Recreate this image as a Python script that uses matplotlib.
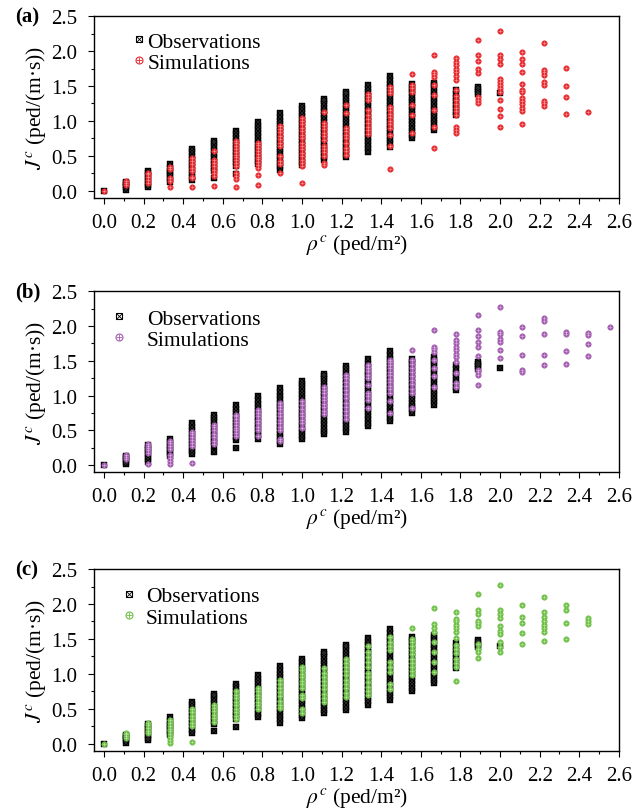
import matplotlib
matplotlib.use("Agg")
import matplotlib.pyplot as plt
from matplotlib.lines import Line2D

plt.rcParams['font.family'] = ['Liberation Serif', 'DejaVu Serif']
plt.rcParams['mathtext.fontset'] = 'stix'

# density columns (ped/m^2)
rho = [0.0, 0.111, 0.222, 0.333, 0.444, 0.556, 0.667, 0.778, 0.889, 1.0, 1.111, 1.222,
       1.333, 1.444, 1.556, 1.667, 1.778, 1.889, 2.0, 2.111, 2.222, 2.333, 2.444, 2.556]

# observed flow per density column
obs_flow = [
    [0.0],
    [0.02, 0.05, 0.08, 0.11, 0.13],
    [0.05, 0.09, 0.13, 0.17, 0.21, 0.25, 0.29],
    [0.13, 0.17, 0.21, 0.25, 0.29, 0.33, 0.38],
    [0.16, 0.20, 0.25, 0.30, 0.35, 0.40, 0.45, 0.50, 0.55, 0.60],
    [0.19, 0.28, 0.33, 0.38, 0.43, 0.48, 0.53, 0.58, 0.63, 0.68, 0.72],
    [0.24, 0.36, 0.41, 0.46, 0.51, 0.56, 0.61, 0.66, 0.71, 0.76, 0.81, 0.86],
    [0.38, 0.43, 0.48, 0.53, 0.58, 0.63, 0.68, 0.73, 0.78, 0.83, 0.88, 0.93, 0.99],
    [0.30, 0.35, 0.40, 0.45, 0.50, 0.55, 0.60, 0.65, 0.70, 0.75, 0.80, 0.85, 0.90, 0.95,
     1.00, 1.05, 1.11],
    [0.37, 0.42, 0.47, 0.52, 0.57, 0.62, 0.67, 0.72, 0.77, 0.82, 0.87, 0.92, 0.97, 1.02,
     1.07, 1.12, 1.17, 1.21],
    [0.44, 0.49, 0.54, 0.59, 0.64, 0.69, 0.74, 0.79, 0.84, 0.89, 0.94, 0.99, 1.04, 1.09,
     1.14, 1.19, 1.24, 1.28, 1.31],
    [0.48, 0.53, 0.58, 0.63, 0.68, 0.73, 0.78, 0.83, 0.88, 0.93, 0.98, 1.03, 1.08, 1.13,
     1.18, 1.23, 1.28, 1.33, 1.38, 1.42],
    [0.56, 0.61, 0.66, 0.71, 0.76, 0.81, 0.86, 0.91, 0.96, 1.01, 1.06, 1.11, 1.16, 1.21,
     1.26, 1.31, 1.36, 1.41, 1.46, 1.52],
    [0.63, 0.68, 0.73, 0.78, 0.83, 0.88, 0.93, 0.98, 1.03, 1.08, 1.13, 1.18, 1.23, 1.28,
     1.33, 1.38, 1.43, 1.48, 1.53, 1.58, 1.64],
    [0.75, 0.80, 0.85, 0.90, 0.95, 1.00, 1.05, 1.10, 1.15, 1.20, 1.25, 1.30, 1.35, 1.40,
     1.45, 1.49, 1.53],
    [0.87, 0.92, 0.97, 1.02, 1.07, 1.12, 1.17, 1.22, 1.27, 1.32, 1.37, 1.42, 1.47, 1.51,
     1.55],
    [1.08, 1.13, 1.18, 1.23, 1.28, 1.33, 1.38, 1.44],
    [1.38, 1.42, 1.46, 1.49],
    [1.40],
    [], [], [], [], [],
]

# simulated flow, panel (a)
sim_a = [
    [0.0],
    [0.08, 0.11, 0.14],
    [0.12, 0.16, 0.20, 0.24, 0.26],
    [0.05, 0.14, 0.18, 0.31, 0.34],
    [0.06, 0.18, 0.20, 0.28, 0.33, 0.38, 0.43, 0.47],
    [0.07, 0.21, 0.26, 0.30, 0.35, 0.40, 0.44, 0.57],
    [0.06, 0.17, 0.21, 0.26, 0.36, 0.40, 0.44, 0.48, 0.52, 0.56, 0.60, 0.64, 0.68, 0.71],
    [0.09, 0.23, 0.33, 0.37, 0.41, 0.45, 0.49, 0.53, 0.57, 0.62, 0.66, 0.69],
    [0.26, 0.38, 0.43, 0.50, 0.64, 0.69, 0.74, 0.79, 0.84, 0.89, 0.93],
    [0.12, 0.35, 0.40, 0.44, 0.50, 0.54, 0.60, 0.64, 0.68, 0.75, 0.80, 0.86, 0.90, 0.96,
     1.00, 1.04],
    [0.37, 0.40, 0.50, 0.55, 0.60, 0.64, 0.73, 0.78, 0.83, 0.88, 0.93, 0.97, 1.13],
    [0.52, 0.57, 0.62, 0.69, 0.76, 0.80, 0.85, 0.90, 1.11, 1.23],
    [0.82, 0.87, 0.92, 0.97, 1.03, 1.09, 1.16, 1.30, 1.34, 1.38],
    [0.32, 0.64, 0.80, 0.90, 0.95, 1.00, 1.05, 1.10, 1.15, 1.20, 1.40, 1.45, 1.49],
    [0.83, 1.09, 1.23, 1.42, 1.47, 1.52, 1.67],
    [0.61, 0.92, 1.15, 1.37, 1.52, 1.63, 1.67, 1.70, 1.95],
    [0.83, 0.87, 0.91, 1.09, 1.14, 1.19, 1.24, 1.30, 1.36, 1.44, 1.59, 1.65, 1.70, 1.75,
     1.80, 1.85, 1.90],
    [1.25, 1.30, 1.34, 1.69, 1.75, 1.86, 1.95, 2.16],
    [0.92, 1.07, 1.17, 1.30, 1.42, 1.47, 1.52, 1.56, 1.60, 1.82, 1.88, 1.94, 2.28],
    [0.95, 1.14, 1.19, 1.24, 1.29, 1.33, 1.42, 1.45, 1.53, 1.70, 1.82, 1.88, 1.99],
    [1.22, 1.26, 1.29, 1.52, 1.56, 1.66, 1.70, 1.73, 2.11],
    [1.10, 1.34, 1.50, 1.76],
    [1.13],
    [],
]

# simulated flow, panel (b)
sim_b = [
    [0.0],
    [0.09, 0.12, 0.15],
    [0.02, 0.17, 0.21, 0.25, 0.28, 0.30],
    [0.02, 0.06, 0.10, 0.14, 0.23, 0.27, 0.31, 0.35],
    [0.03, 0.28, 0.32, 0.36, 0.40, 0.44, 0.48],
    [0.30, 0.35, 0.40, 0.45, 0.50, 0.55, 0.58],
    [0.42, 0.46, 0.50, 0.54, 0.58, 0.62, 0.66, 0.70, 0.72],
    [0.42, 0.50, 0.55, 0.60, 0.65, 0.70, 0.75, 0.79],
    [0.34, 0.38, 0.50, 0.55, 0.60, 0.65, 0.70, 0.75, 0.80, 0.85, 0.90],
    [0.54, 0.60, 0.65, 0.70, 0.75, 0.80, 0.86, 0.92],
    [0.73, 0.78, 0.83, 0.88, 0.93, 0.98, 1.03, 1.08, 1.13],
    [0.66, 0.72, 0.78, 0.84, 0.90, 0.96, 1.02, 1.08, 1.14, 1.20, 1.25, 1.30],
    [0.82, 0.94, 0.99, 1.04, 1.15, 1.25, 1.30, 1.35, 1.40, 1.44],
    [0.75, 0.92, 1.04, 1.09, 1.14, 1.19, 1.24, 1.29, 1.34, 1.39, 1.44, 1.48, 1.51],
    [0.82, 1.04, 1.10, 1.16, 1.22, 1.28, 1.34, 1.40, 1.46, 1.51, 1.65],
    [1.13, 1.28, 1.39, 1.51, 1.63, 1.67, 1.70, 1.94],
    [1.13, 1.18, 1.32, 1.49, 1.55, 1.60, 1.65, 1.70, 1.75, 1.80, 1.89],
    [1.15, 1.30, 1.34, 1.37, 1.57, 1.70, 1.77, 1.85, 1.94, 2.16],
    [1.54, 1.65, 1.77, 1.82, 1.89, 1.92, 2.28],
    [1.34, 1.37, 1.59, 1.86, 1.98],
    [1.44, 1.59, 1.88, 2.07, 2.11],
    [1.46, 1.64, 1.88, 1.92],
    [1.57, 1.74, 1.87, 1.90],
    [1.99],
]

# simulated flow, panel (c)
sim_c = [
    [0.0],
    [0.08, 0.11, 0.14, 0.16],
    [0.15, 0.19, 0.23, 0.27, 0.30],
    [0.02, 0.06, 0.10, 0.14, 0.18, 0.22, 0.26, 0.30, 0.34],
    [0.03, 0.25, 0.30, 0.35, 0.40, 0.45, 0.50],
    [0.32, 0.37, 0.42, 0.47, 0.52, 0.56],
    [0.35, 0.40, 0.45, 0.50, 0.55, 0.60, 0.65, 0.70, 0.75],
    [0.50, 0.55, 0.60, 0.65, 0.70, 0.75, 0.80],
    [0.51, 0.56, 0.62, 0.68, 0.74, 0.80, 0.86, 0.92],
    [0.44, 0.50, 0.65, 0.70, 0.80, 0.85, 0.90, 0.95, 1.00, 1.05, 1.10],
    [0.60, 0.66, 0.72, 0.78, 0.84, 0.90, 0.96, 1.02, 1.08],
    [0.67, 0.73, 0.80, 0.86, 0.92, 0.98, 1.04, 1.10, 1.16, 1.22],
    [0.70, 0.76, 0.82, 0.88, 0.95, 1.02, 1.10, 1.17, 1.24, 1.32, 1.40],
    [0.79, 0.86, 1.03, 1.10, 1.17, 1.34, 1.40, 1.46, 1.53],
    [0.98, 1.04, 1.10, 1.16, 1.22, 1.28, 1.34, 1.40, 1.46, 1.50, 1.66],
    [1.03, 1.17, 1.31, 1.46, 1.60, 1.65, 1.71, 1.95],
    [0.90, 1.10, 1.16, 1.22, 1.30, 1.36, 1.41, 1.52, 1.60, 1.65, 1.70, 1.75, 1.79, 1.88],
    [1.23, 1.31, 1.36, 1.43, 1.68, 1.73, 1.76, 1.85, 1.92, 2.14],
    [1.32, 1.39, 1.46, 1.57, 1.62, 1.68, 1.80, 1.86, 1.92, 2.27],
    [1.43, 1.58, 1.73, 1.82, 1.99],
    [1.47, 1.60, 1.65, 1.70, 1.76, 1.82, 1.88, 2.10],
    [1.50, 1.73, 1.91, 1.98],
    [1.71, 1.75, 1.80],
    [],
]

panel_labels = ['(a)', '(b)', '(c)']
sim_colors = ['#e8282d', '#a35bb0', '#6dbf45']
cross_colors = ['#f59a9c', '#d8b2de', '#b8e4a2']
legend_pad = [0.11, 1.0, 0.5]
legend_x = [0.073, 0.035, 0.054]
legend_y = [0.915, 0.905, 0.905]


def flatten(cols):
    xs, ys = [], []
    for r, vals in zip(rho, cols):
        xs += [r] * len(vals)
        ys += vals
    return xs, ys


fig = plt.figure(figsize=(6.44, 8.12), dpi=100)
boxes = [(0.146, 0.755, 0.815, 0.224),
         (0.146, 0.4175, 0.815, 0.2225),
         (0.146, 0.074, 0.815, 0.224)]

ox, oy = flatten(obs_flow)
for i, sims in enumerate([sim_a, sim_b, sim_c]):
    ax = fig.add_axes(boxes[i])
    sx, sy = flatten(sims)
    ax.plot(ox, oy, 's', ms=4.6, mfc='black', mec='black', mew=0.3, ls='none', zorder=2)
    ax.plot(ox, oy, 'x', ms=3.0, color='#3c3c3c', mew=0.35, ls='none', zorder=2.1)
    ax.plot(sx, sy, 'o', ms=4.0, mfc=sim_colors[i], mec=sim_colors[i], mew=0.3,
            ls='none', zorder=3)
    ax.plot(sx, sy, '+', ms=3.4, color=cross_colors[i], mew=0.4, ls='none', zorder=3.1)

    ax.set_xlim(-0.05, 2.6)
    ax.set_ylim(-0.1, 2.5)
    ax.set_xticks([0.0, 0.2, 0.4, 0.6, 0.8, 1.0, 1.2, 1.4, 1.6, 1.8, 2.0, 2.2, 2.4, 2.6])
    ax.set_xticks([0.1 + 0.2 * k for k in range(13)], minor=True)
    ax.set_yticks([0.0, 0.5, 1.0, 1.5, 2.0, 2.5])
    ax.set_yticks([0.25, 0.75, 1.25, 1.75, 2.25], minor=True)
    ax.xaxis.set_major_formatter(matplotlib.ticker.FormatStrFormatter('%.1f'))
    ax.yaxis.set_major_formatter(matplotlib.ticker.FormatStrFormatter('%.1f'))
    ax.tick_params(which='both', direction='out', top=False, right=False,
                   labelsize=15, width=0.8)
    ax.tick_params(axis='x', which='major', length=4, pad=7)
    ax.tick_params(axis='y', which='major', length=4, pad=8)
    ax.tick_params(which='minor', length=2.5)
    for s in ax.spines.values():
        s.set_linewidth(1.0)
    ax.set_xlabel(r'$\rho^c$ (ped/m²)', fontsize=15.5, labelpad=0)
    ax.set_ylabel(r'$J^c$ (ped/(m·s))', fontsize=15.5, labelpad=2)
    ax.text(-0.15, 1.0, panel_labels[i], transform=ax.transAxes, fontsize=15,
            fontweight='bold', va='center', ha='left')

    h_obs = (Line2D([], [], marker='s', ms=4.5, mfc='none', mec='black', mew=0.8, ls='none'),
             Line2D([], [], marker='x', ms=4, color='black', mew=0.6, ls='none'))
    h_sim = (Line2D([], [], marker='o', ms=5, mfc='none', mec=sim_colors[i], mew=0.8, ls='none'),
             Line2D([], [], marker='+', ms=5, color=sim_colors[i], mew=0.6, ls='none'))
    ax.legend([h_obs, h_sim], ['Observations', 'Simulations'], loc='upper left',
              bbox_to_anchor=(legend_x[i], legend_y[i]), frameon=False, fontsize=15.5,
              handlelength=0.6, handletextpad=legend_pad[i], labelspacing=0.05,
              borderaxespad=0.0, borderpad=0.0)

fig.savefig('out.png', dpi=100)
